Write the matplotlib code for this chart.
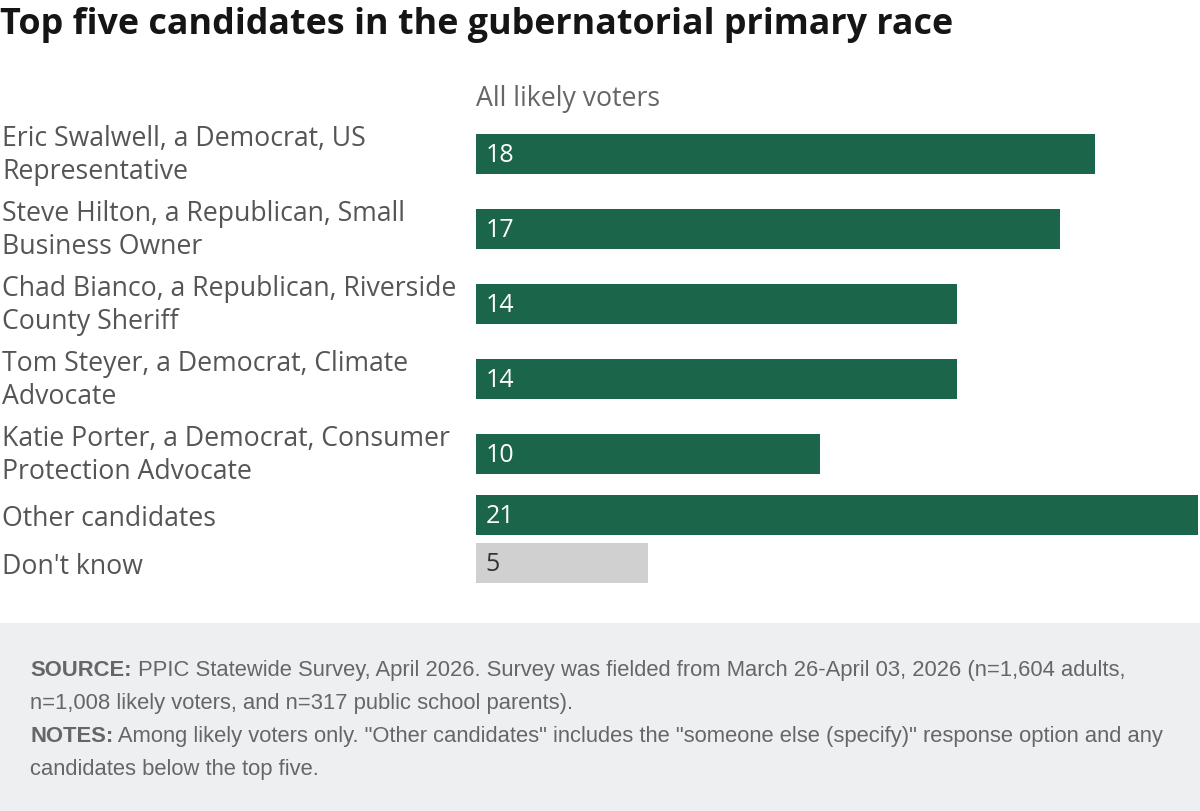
import numpy as np
import matplotlib
matplotlib.use("Agg")
import matplotlib.pyplot as plt
from matplotlib.patches import Rectangle

plt.rcParams['font.family'] = ['Open Sans', 'DejaVu Sans']

title = "Top five candidates in the gubernatorial primary race"
series_name = "All likely voters"
labels = [
    "Eric Swalwell, a Democrat, US\nRepresentative",
    "Steve Hilton, a Republican, Small\nBusiness Owner",
    "Chad Bianco, a Republican, Riverside\nCounty Sheriff",
    "Tom Steyer, a Democrat, Climate\nAdvocate",
    "Katie Porter, a Democrat, Consumer\nProtection Advocate",
    "Other candidates",
    "Don't know",
]
values = [18, 17, 14, 14, 10, 21, 5]
is_dont_know = [False, False, False, False, False, False, True]

footer_lines = [
    ("SOURCE:", " PPIC Statewide Survey, April 2026. Survey was fielded from March 26-April 03, 2026 (n=1,604 adults,"),
    ("", "n=1,008 likely voters, and n=317 public school parents)."),
    ("NOTES:", " Among likely voters only. \"Other candidates\" includes the \"someone else (specify)\" response option and any"),
    ("", "candidates below the top five."),
]

GREEN = "#1b654a"
GREY_BAR = "#d0d0d0"
LABEL_C = "#555555"
FOOT_C = "#666666"
FOOT_FONT = ['Liberation Sans', 'DejaVu Sans']
W, H = 1200, 812


def fx(x):
    return x / W


def fy(y):
    return 1 - y / H


def row_centers(labels, first=154.5, one=48, two=75):
    heights = [two if "\n" in l else one for l in labels]
    centers = [first]
    for i in range(1, len(labels)):
        centers.append(centers[-1] + (heights[i - 1] + heights[i]) / 2)
    return centers


def main():
    fig = plt.figure(figsize=(W / 100, H / 100), dpi=100)
    fig.patch.set_facecolor("white")

    # footer background
    fig.patches.append(Rectangle((0, 0), 1, fy(624), transform=fig.transFigure,
                                 facecolor="#eeeff1", edgecolor="none", zorder=0))

    ax = fig.add_axes([fx(476), 0, fx(722), 1])
    ax.set_xlim(0, 21)
    ax.set_ylim(H, 0)
    ax.axis("off")
    ax.patch.set_alpha(0)

    ys = row_centers(labels)
    colors = [GREY_BAR if d else GREEN for d in is_dont_know]
    ax.barh(ys, values, height=40, color=colors, edgecolor="none")

    for y, v, d in zip(ys, values, is_dont_know):
        ax.text(0.28, y + 1, str(v), va="center", ha="left", fontsize=18,
                color="#333333" if d else "white")

    for y, lab in zip(ys, labels):
        fig.text(fx(2), fy(y + 3 if "\n" not in lab else y + 1), lab, va="center",
                 ha="left", fontsize=19.2, color=LABEL_C, linespacing=1.27)

    fig.text(fx(0), fy(25), title, va="center", ha="left", fontsize=25.8,
             fontweight="bold", color="#151515")
    fig.text(fx(476), fy(99), series_name, va="center", ha="left", fontsize=19.2,
             color="#666666")

    renderer = fig.canvas.get_renderer()
    y0 = 671
    for i, (bold, rest) in enumerate(footer_lines):
        y = y0 + i * 33
        x = 30
        if bold:
            t = fig.text(fx(x), fy(y), bold, va="center", ha="left", fontsize=15.8,
                         fontweight="bold", color=FOOT_C, family=FOOT_FONT)
            x += t.get_window_extent(renderer).width
        fig.text(fx(x), fy(y), rest, va="center", ha="left", fontsize=15.8,
                 color=FOOT_C, family=FOOT_FONT)

    fig.savefig("out.png", dpi=100)


if __name__ == '__main__': main()
